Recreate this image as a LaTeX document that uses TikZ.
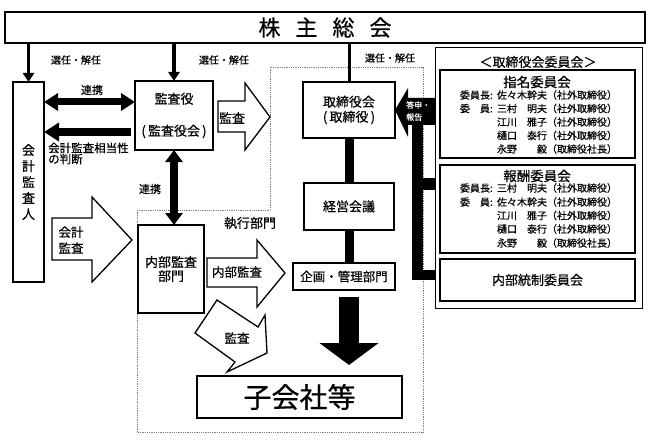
\documentclass[tikz,border=0pt]{standalone}
\usepackage{fontspec}
\setmainfont{Noto Sans CJK JP}[FakeBold=0.5]
\usetikzlibrary{arrows.meta}
\newcommand\fsz[2]{\fontsize{#1}{#2}\selectfont}
\newcommand\rchair{\makebox[37pt][l]{委員長:}}
\newcommand\rmemb{\makebox[37pt][l]{\makebox[30pt][s]{委\hfill 員}:}}
\newcommand\rnone{\hspace*{37pt}}
\newcommand\pname[2]{\makebox[50pt][s]{#1\hfill #2}}
\begin{document}
\begin{tikzpicture}[x=1pt,y=-1pt,
  box/.style={draw, line width=1.6pt, fill=white, inner sep=0pt, outer sep=0pt, align=center},
  pbox/.style={draw, line width=1.4pt, fill=white, inner sep=0pt, outer sep=0pt, align=center},
  lbl/.style={inner sep=0pt, outer sep=0pt, font=\fsz{10}{12}},
  txt/.style={inner sep=0pt, outer sep=0pt, align=center},
  hollow/.style={draw, line width=1.3pt, fill=white, line join=miter},
  thinarr/.style={line width=3.5pt, -{Triangle[width=11pt,length=9pt]}},
  fatdbl/.style={line width=7pt, {Triangle[width=17pt,length=14pt]}-{Triangle[width=17pt,length=14pt]}},
  vdbl/.style={line width=8pt, {Triangle[width=17pt,length=12pt]}-{Triangle[width=17pt,length=12pt]}},
  fatarr/.style={line width=8pt, -{Triangle[width=18pt,length=15pt]}},
  barline/.style={line width=9pt},
  mem/.style={anchor=west, inner sep=0pt, outer sep=0pt, font=\fsz{10}{12}},
]
\useasboundingbox (0,0) rectangle (650,441);
\fill[white] (0,0) rectangle (650,441);

% execution area (dotted)
\draw[gray, line width=0.8pt, densely dotted] (137,210) -- (270,210) -- (270,67) -- (423,67) -- (423,432) -- (137,432) -- cycle;
\node[txt, font=\fsz{13}{15}] (shikko) at (250,223) {執行部門};

% hollow arrows
\draw[hollow] (218,101) -- (245,101) -- (245,83) -- (270,117) -- (245,150) -- (245,132) -- (218,132) -- cycle;
\node[txt, font=\fsz{13}{15}] (akansa) at (232,118) {監査};
\draw[hollow] (52,218) -- (92,218) -- (92,197) -- (132,240) -- (92,282) -- (92,260) -- (52,260) -- cycle;
\node[txt, font=\fsz{12.5}{16}] (akaikei) at (71,240) {会計\\監査};
\draw[hollow] (207,258) -- (257,258) -- (257,240) -- (285,273) -- (257,307) -- (257,287) -- (207,287) -- cycle;
\node[txt, font=\fsz{12.5}{15}] (anaibu) at (237,272) {内部監査};
\draw[hollow] (217,300) -- (258,327) -- (265,315) -- (267,353) -- (227,372) -- (235,362) -- (195,333) -- cycle;
\node[txt, font=\fsz{12.5}{15}] (adiag) at (237,338) {監査};

% boxes
\node[box, line width=2pt, minimum width=640, minimum height=31, font=\fsz{22}{24}] (top) at (325,27.5) {株\hspace{15pt}主\hspace{15pt}総\hspace{15pt}会};
\node[box, minimum width=31, minimum height=200, font=\fsz{13}{16}] (kaikei) at (28.5,182) {会\\計\\監\\査\\人};
\node[box, minimum width=78, minimum height=69, font=\fsz{13}{32}] (kansa) at (174,115.5) {監査役\\(\,監査役会\,)};
\node[box, minimum width=92, minimum height=56, font=\fsz{13}{15}] (tori) at (349,110) {取締役会\\(\,取締役\,)};
\node[box, minimum width=90, minimum height=47, font=\fsz{13}{15}] (keiei) at (349,206.5) {経営会議};
\node[box, minimum width=102, minimum height=27, font=\fsz{12.5}{15}] (kikaku) at (344,276.5) {企画・管理部門};
\node[box, minimum width=66, minimum height=88, font=\fsz{13}{14}] (naibu) at (171,269) {内部監査\\部門};
\node[box, minimum width=205, minimum height=42, font=\fsz{28}{30}] (kogaisha) at (299.5,397) {子会社等};

% right panel
\node[box, line width=1pt, minimum width=207, minimum height=260] (panel) at (538.5,178) {};
\node[txt, font=\fsz{13}{15}] (ptitle) at (538,62) {＜取締役会委員会＞};
\node[pbox, minimum width=195, minimum height=88] (shimei) at (537.5,114) {};
\node[pbox, minimum width=195, minimum height=88] (houshu) at (537.5,209) {};
\node[pbox, minimum width=195, minimum height=42, font=\fsz{13}{15}] (naibutousei) at (537.5,280) {内部統制委員会};
\node[txt, font=\fsz{13.5}{15}] (shimeit) at (537,82) {指名委員会};
\node[mem] (s1) at (460,95) {\rchair 佐々木幹夫（社外取締役）};
\node[mem] (s2) at (460,108.5) {\rmemb\pname{三村}{明夫}（社外取締役）};
\node[mem] (s3) at (460,122) {\rnone\pname{江川}{雅子}（社外取締役）};
\node[mem] (s4) at (460,135.5) {\rnone\pname{樋口}{泰行}（社外取締役）};
\node[mem] (s5) at (460,149) {\rnone\pname{永野}{毅}（取締役社長）};
\node[txt, font=\fsz{13.5}{15}] (houshut) at (537,176) {報酬委員会};
\node[mem] (h1) at (460,188) {\rchair\pname{三村}{明夫}（社外取締役）};
\node[mem] (h2) at (460,202) {\rmemb 佐々木幹夫（社外取締役）};
\node[mem] (h3) at (460,215.5) {\rnone\pname{江川}{雅子}（社外取締役）};
\node[mem] (h4) at (460,229) {\rnone\pname{樋口}{泰行}（社外取締役）};
\node[mem] (h5) at (460,243) {\rnone\pname{永野}{毅}（取締役社長）};

% labels
\node[lbl] (l1) at (76,60) {選任・解任};
\node[lbl] (l2) at (224,60) {選任・解任};
\node[lbl] (l3) at (390,58) {選任・解任};
\node[txt, font=\fsz{11}{13}] (renkei1) at (92,90) {連携};
\node[txt, font=\fsz{11}{13}] (renkei2) at (150,189) {連携};
\node[anchor=west, inner sep=0pt, align=left, font=\fsz{11.5}{11}] (soutou) at (48,153.5) {会計監査相当性\\の判断};

% connectors
\draw[thinarr] (top.south -| kaikei) -- (kaikei.north);
\draw[thinarr] (top.south -| kansa) -- (kansa.north);
\draw[line width=3pt] (top.south -| tori) -- (tori.north);
\draw[fatdbl] (kaikei.east |- 0,102) -- (kansa.west |- 0,102);
\draw[fatarr, shorten <=4pt] (kansa.west |- 0,132) -- (kaikei.east |- 0,132);
\draw[vdbl] (kansa.south) -- (kansa.south |- naibu.north);
\draw[barline] (tori.south) -- (keiei.north);
\draw[barline] (keiei.south) -- (keiei.south |- kikaku.north);
\draw[line width=20pt, -{Triangle[width=58pt,length=22pt]}, shorten <=7pt, shorten >=11pt] (kikaku.south -| tori) -- (kogaisha.north -| tori);

% report arrow from committees
\fill[black] (395,110) -- (408,88) -- (408,98) -- (435,98) -- (435,125) -- (408,125) -- (408,137) -- cycle;
\fill[black] (412,120) rectangle (423,280);
\fill[black] (423,178) rectangle (435,190);
\fill[black] (423,270) rectangle (435,280);
\node[anchor=west, inner sep=0pt, align=left, text=white, font=\fsz{8}{12}] (toushin) at (406,111) {答申・\\報告};
\end{tikzpicture}
\end{document}
